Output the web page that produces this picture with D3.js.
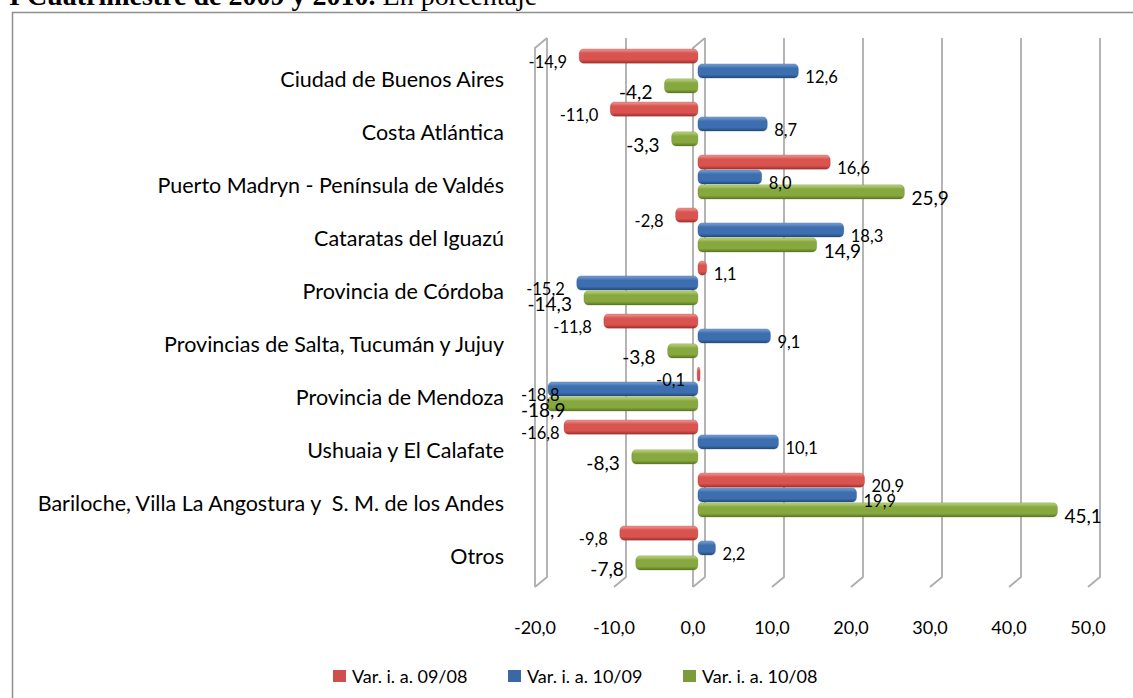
<!DOCTYPE html>
<html>
<head>
<meta charset="utf-8">
<script src="https://cdn.jsdelivr.net/npm/d3@7"></script>
<style>
  body { margin: 0; background: #fff; }
  svg { display: block; }
  text { font-family: Lato, "Noto Sans", sans-serif; fill: #000; }
</style>
</head>
<body>
<script>
// 3D-looking clustered horizontal bars (Excel style), variation in percent

var svgWidth = 1133;
var svgHeight = 698;

// data
const categories = [
  "Ciudad de Buenos Aires",
  "Costa Atlántica",
  "Puerto Madryn - Península de Valdés",
  "Cataratas del Iguazú",
  "Provincia de Córdoba",
  "Provincias de Salta, Tucumán y Jujuy",
  "Provincia de Mendoza",
  "Ushuaia y El Calafate",
  "Bariloche, Villa La Angostura y  S. M. de los Andes",
  "Otros"
];
const seriesNames = ["Var. i. a. 09/08", "Var. i. a. 10/09", "Var. i. a. 10/08"];
const var0908 = [-14.9, -11.0, 16.6, -2.8, 1.1, -11.8, -0.1, -16.8, 20.9, -9.8];
const var1009 = [12.6, 8.7, 8.0, 18.3, -15.2, 9.1, -18.8, 10.1, 19.9, 2.2];
const var1008 = [-4.2, -3.3, 25.9, 14.9, -14.3, -3.8, -18.9, -8.3, 45.1, -7.8];
const xTicks = [-20, -10, 0, 10, 20, 30, 40, 50];

const seriesValues = [var0908, var1009, var1008];
const seriesKeys = ["s0908", "s1009", "s1008"];

// colours for each series: [light, mid, dark, legend]
const palette = {
  s0908: ["#ee9a97", "#d9534f", "#a3302d", "#cf4f4c"],
  s1009: ["#7aa2d6", "#3d6fb0", "#234879", "#3b68a5"],
  s1008: ["#bdd584", "#86a83e", "#5a7720", "#7c9c3b"]
};

var fmt = d3.formatLocale({
  decimal: ",", thousands: ".", grouping: [3], currency: ["$", ""], minus: "-"
}).format(".1f");

// table built from the arrays
var rows = categories.map(function(c, i) {
  var r = { cat: c };
  seriesKeys.forEach(function(k, j) { r[k] = seriesValues[j][i]; });
  return r;
});

var svg = d3.select("body").append("svg")
  .attr("width", svgWidth)
  .attr("height", svgHeight);

// gradients for the cylinder look
var defs = svg.append("defs");
seriesKeys.forEach(function(k) {
  var g = defs.append("linearGradient")
    .attr("id", "grad-" + k)
    .attr("x1", 0).attr("y1", 0).attr("x2", 0).attr("y2", 1);
  g.append("stop").attr("offset", "0%").attr("stop-color", palette[k][0]);
  g.append("stop").attr("offset", "30%").attr("stop-color", palette[k][1]);
  g.append("stop").attr("offset", "75%").attr("stop-color", palette[k][1]);
  g.append("stop").attr("offset", "100%").attr("stop-color", palette[k][2]);
});

// title, cut by the top edge
var title = svg.append("text")
  .attr("x", 9)
  .attr("y", 5)
  .style("font-family", "'Liberation Serif', 'DejaVu Serif', serif")
  .style("font-size", "28px");
title.append("tspan").style("font-weight", "bold").text("I Cuatrimestre de 2009 y 2010.");
title.append("tspan").text(" En porcentaje");

// chart frame (runs past right and bottom edges)
svg.append("rect")
  .attr("x", 12.5).attr("y", 12.5)
  .attr("width", 1200).attr("height", 800)
  .attr("fill", "none")
  .attr("stroke", "#8f8f8f")
  .attr("stroke-width", 1.5);

// scales: back wall, front edge and the bars themselves
var xBack = d3.scaleLinear().domain([-20, 50]).range([547, 1100]);
var xFront = d3.scaleLinear().domain([-20, 50]).range([535, 1088]);
var xBar = d3.scaleLinear().domain([-20, 50]).range([538.5, 1096.5]);

var topBack = 38, bottomBack = 577, topFront = 48, bottomFront = 587;

var y0 = d3.scaleBand().domain(categories).range([44.5, 574.5]);
var y1 = d3.scaleBand().domain(seriesKeys).range([4.5, 48.5]).paddingInner(0.05);

// gridlines with the little 3D foot
var grid = svg.append("g").attr("class", "grid");
grid.selectAll("path.gl")
  .data(xTicks)
  .enter().append("path")
    .attr("class", "gl")
    .attr("fill", "none")
    .attr("stroke", "#adadad")
    .attr("stroke-width", 1.8)
    .attr("d", function(d) {
      return "M" + xBack(d) + "," + topBack + "V" + bottomBack +
        "L" + xFront(d) + "," + bottomFront;
    });

// left side wall and the zero plane edge
[-20, 0].forEach(function(v) {
  grid.append("path")
    .attr("fill", "none")
    .attr("stroke", "#adadad")
    .attr("stroke-width", 1.8)
    .attr("d", "M" + xFront(v) + "," + bottomFront + "V" + topFront +
      "L" + xBack(v) + "," + topBack);
});

// bars
var barGroup = svg.append("g");
var bars = [];
rows.forEach(function(r) {
  seriesKeys.forEach(function(k) {
    bars.push({ cat: r.cat, key: k, value: r[k] });
  });
});

barGroup.selectAll("rect")
  .data(bars)
  .enter().append("rect")
    .attr("x", d => Math.min(xBar(0), xBar(d.value)))
    .attr("y", d => y0(d.cat) + y1(d.key))
    .attr("width", d => Math.max(Math.abs(xBar(d.value) - xBar(0)), 3))
    .attr("height", y1.bandwidth())
    .attr("rx", 4)
    .attr("ry", 5)
    .attr("fill", d => "url(#grad-" + d.key + ")")
    .attr("stroke", d => palette[d.key][2])
    .attr("stroke-opacity", 0.35)
    .attr("stroke-width", 0.8);

// value labels
var labelGroup = svg.append("g");
bars.forEach(function(d) {
  var cy = y0(d.cat) + y1(d.key) + y1.bandwidth() / 2 + 6;
  var t = labelGroup.append("text")
    .attr("y", cy)
    .attr("dominant-baseline", "central")
    .style("font-size", d.key === "s1008" ? "19px" : "16.5px")
    .text(fmt(d.value));
  if (d.value < 0) {
    var xe = xBar(d.value) - 12;
    var w = t.node().getComputedTextLength();
    if (xe - w < 521) {
      t.attr("x", 521).attr("text-anchor", "start");
    } else {
      t.attr("x", xe).attr("text-anchor", "end");
    }
  } else {
    t.attr("x", xBar(d.value) + 7).attr("text-anchor", "start");
  }
});

// category labels
svg.append("g").selectAll("text")
  .data(categories)
  .enter().append("text")
    .attr("x", 504)
    .attr("y", d => y0(d) + y0.bandwidth() / 2 + 8)
    .attr("text-anchor", "end")
    .attr("dominant-baseline", "central")
    .style("font-size", "21.5px")
    .style("white-space", "pre")
    .text(d => d);

// value axis labels on the front edge
svg.append("g").selectAll("text")
  .data(xTicks)
  .enter().append("text")
    .attr("x", d => xFront(d))
    .attr("y", 627)
    .attr("text-anchor", "middle")
    .attr("dominant-baseline", "central")
    .style("font-size", "18px")
    .text(d => fmt(d));

// legend, centred under the chart area
var legend = svg.append("g").attr("transform", "translate(333, 676)");
seriesKeys.forEach(function(k, i) {
  var item = legend.append("g").attr("transform", `translate(${i * 175}, 0)`);
  item.append("rect")
    .attr("x", 0).attr("y", -6)
    .attr("width", 13).attr("height", 12)
    .attr("fill", palette[k][3]);
  item.append("text")
    .attr("x", 19)
    .attr("y", 0)
    .attr("dominant-baseline", "central")
    .style("font-size", "18px")
    .text(seriesNames[i]);
});
</script>
</body>
</html>
